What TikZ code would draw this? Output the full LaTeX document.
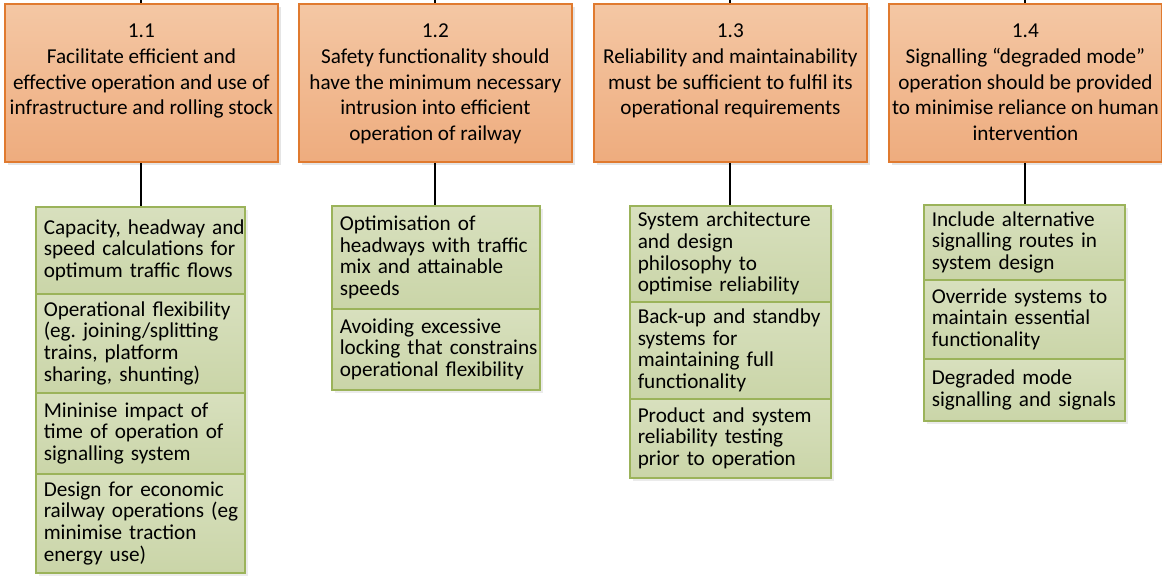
\documentclass[tikz,border=0pt]{standalone}
\usepackage{fontspec}
\setmainfont{Carlito}
\usetikzlibrary{shadows}
\definecolor{obord}{HTML}{E07A2F}
\definecolor{otop}{HTML}{F4C7A4}
\definecolor{obot}{HTML}{EEAC7E}
\definecolor{gbord}{HTML}{9BB35A}
\definecolor{gtop}{HTML}{D8E0BE}
\definecolor{gbot}{HTML}{CAD5A8}
\newcommand\ml[1]{\mbox{#1}}
\frenchspacing
\begin{document}
\begin{tikzpicture}[x=1pt,y=-1pt,
  obox/.style={draw=obord, line width=1.8pt, top color=otop, bottom color=obot,
    minimum width=273pt, minimum height=158pt, inner sep=0pt, anchor=north west,
    general shadow={fill=black!10, shadow xshift=3pt, shadow yshift=-3pt}},
  gbox/.style={draw=gbord, line width=1.5pt, top color=gtop, bottom color=gbot,
    inner xsep=8pt, inner ysep=0pt, anchor=north west, align=left,
    font=\fontsize{21.2}{21.7}\selectfont,
    general shadow={fill=black!8, shadow xshift=3pt, shadow yshift=-3pt}},
  conn/.style={draw=black, line width=2pt}]
\useasboundingbox (0,0) rectangle (1162,576);
\newcommand\otext[1]{\parbox[c][158pt][t]{271pt}{\fontsize{21.2}{25.8}\selectfont\centering\vspace*{15.5pt}\strut #1}}
% top boxes
\node[obox] (o1) at (4,3) {\otext{1.1\\Facilitate efficient and\\effective operation and use of\\infrastructure and rolling stock}};
\node[obox] (o2) at (298,3) {\otext{1.2\\Safety functionality should\\have the minimum necessary\\intrusion into efficient\\operation of railway}};
\node[obox] (o3) at (593,3) {\otext{1.3\\Reliability and maintainability\\must be sufficient to fulfil its\\operational requirements}};
\node[obox] (o4) at (888,3) {\otext{1.4\\Signalling “degraded mode”\\operation should be provided\\to minimise reliance on human\\intervention}};
% column 1
\node[gbox, minimum width=209pt, minimum height=87pt, text width=193pt] (g11) at (35,206) {\ml{Capacity, headway and}\\\ml{speed calculations for}\\\ml{optimum traffic flows}};
\node[gbox, minimum width=209pt, minimum height=99pt, text width=193pt] (g12) at (35,293) {\ml{Operational flexibility}\\\ml{(eg.\ joining/splitting}\\\ml{trains, platform}\\\ml{sharing, shunting)}};
\node[gbox, minimum width=209pt, minimum height=81pt, text width=193pt] (g13) at (35,392) {\ml{Mininise impact of}\\\ml{time of operation of}\\\ml{signalling system}};
\node[gbox, minimum width=209pt, minimum height=99pt, text width=193pt] (g14) at (35,473) {\ml{Design for economic}\\\ml{railway operations (eg}\\\ml{minimise traction}\\\ml{energy use)}};
% column 2
\node[gbox, minimum width=208pt, minimum height=103pt, text width=192pt] (g21) at (331,205) {\ml{Optimisation of}\\\ml{headways with traffic}\\\ml{mix and attainable}\\\ml{speeds}};
\node[gbox, minimum width=208pt, minimum height=81pt, text width=192pt] (g22) at (331,308) {\ml{Avoiding excessive}\\\ml{locking that constrains}\\\ml{operational flexibility}};
% column 3
\node[gbox, minimum width=201pt, minimum height=96pt, text width=185pt] (g31) at (629,205) {\ml{System architecture}\\\ml{and design}\\\ml{philosophy to}\\\ml{optimise reliability}};
\node[gbox, minimum width=201pt, minimum height=97pt, text width=185pt] (g32) at (629,301) {\ml{Back-up and standby}\\\ml{systems for}\\\ml{maintaining full}\\\ml{functionality}};
\node[gbox, minimum width=201pt, minimum height=79pt, text width=185pt] (g33) at (629,398) {\ml{Product and system}\\\ml{reliability testing}\\\ml{prior to operation}};
% column 4
\node[gbox, minimum width=201pt, minimum height=75pt, text width=185pt] (g41) at (923,204) {\ml{Include alternative}\\\ml{signalling routes in}\\\ml{system design}};
\node[gbox, minimum width=201pt, minimum height=79pt, text width=185pt] (g42) at (923,279) {\ml{Override systems to}\\\ml{maintain essential}\\\ml{functionality}};
\node[gbox, minimum width=201pt, minimum height=62pt, text width=185pt] (g43) at (923,358) {\ml{Degraded mode}\\\ml{signalling and signals}};
% connectors
\coordinate (t1) at (o1.north |- 0,0);
\coordinate (t2) at (o2.north |- 0,0);
\coordinate (t3) at (o3.north |- 0,0);
\coordinate (t4) at (o4.north |- 0,0);
\draw[conn] (t1) -- (o1.north);
\draw[conn] (t2) -- (o2.north);
\draw[conn] (t3) -- (o3.north);
\draw[conn] (t4) -- (o4.north);
\draw[conn] (o1.south) -- (o1.south |- g11.north);
\draw[conn] (o2.south) -- (o2.south |- g21.north);
\draw[conn] (o3.south) -- (o3.south |- g31.north);
\draw[conn] (o4.south) -- (o4.south |- g41.north);
\end{tikzpicture}
\end{document}
